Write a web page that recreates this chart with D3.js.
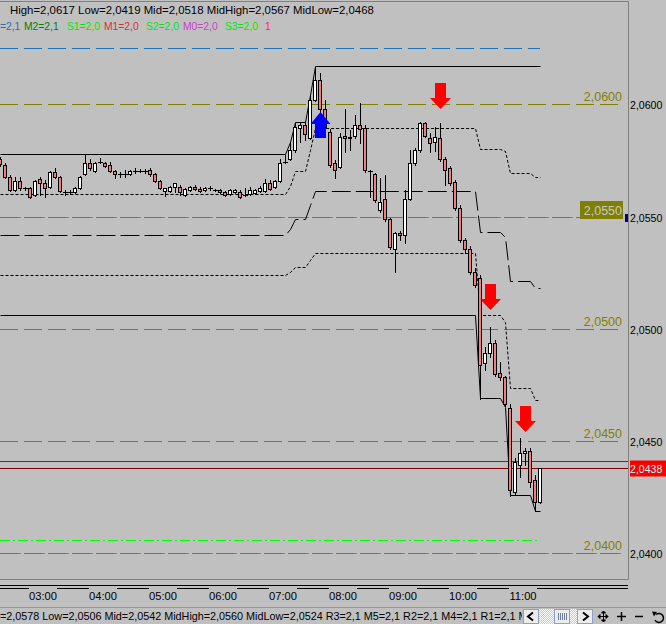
<!DOCTYPE html>
<html>
<head>
<meta charset="utf-8">
<script src="https://cdnjs.cloudflare.com/ajax/libs/d3/7.8.5/d3.min.js"></script>
<style>
  body { margin: 0; background: #c0c0c0; }
  svg { display: block; }
  text { font-family: "Liberation Sans", Arial, sans-serif; }
</style>
</head>
<body>
<div id="chart"></div>
<script>
const width = 666;
const height = 624;
const plotRight = 628;
const plotBottom = 579;

// 5 minute bars, first visible bar at 02:20
const firstBar = new Date(2010, 0, 4, 2, 20);

const opens = [
  2.05756, 2.0573, 2.05676, 2.05618, 2.05658, 2.05627, 2.05627, 2.05596, 2.05667, 2.05649,
  2.05632, 2.05698, 2.05676, 2.05609, 2.05609, 2.05609, 2.05627, 2.0569, 2.05739, 2.05703,
  2.05743, 2.05739, 2.0573, 2.05703, 2.0569, 2.0569, 2.0569, 2.05703, 2.05703, 2.05703,
  2.05707, 2.0569, 2.05658, 2.05614, 2.05614, 2.05632, 2.05632, 2.05596, 2.05618, 2.05632,
  2.05623, 2.05618, 2.05627, 2.05618, 2.05618, 2.05609, 2.056, 2.05609, 2.05609, 2.05596,
  2.056, 2.05605, 2.05614, 2.05614, 2.05649, 2.05632, 2.05658, 2.05743, 2.05756, 2.05796,
  2.05894, 2.05908, 2.0585, 2.06019, 2.06108, 2.05979, 2.05877, 2.05739, 2.05721, 2.05859,
  2.05854, 2.05859, 2.05908, 2.05894, 2.05703, 2.0569, 2.05529, 2.05578, 2.05489, 2.05355,
  2.05427, 2.05418, 2.05578, 2.05739, 2.05796, 2.05917, 2.0585, 2.05832, 2.0585, 2.05756,
  2.05716, 2.05654, 2.05538, 2.05396, 2.05355, 2.05253, 2.05226, 2.04848, 2.04892, 2.04937,
  2.04803, 2.04785, 2.04647, 2.04273, 2.04393, 2.04447, 2.04456, 2.04327, 2.04229
];
const highs = [
  2.05765, 2.05739, 2.05685, 2.05676, 2.05676, 2.05632, 2.05632, 2.05663, 2.05676, 2.05663,
  2.05703, 2.05716, 2.05681, 2.05618, 2.05618, 2.05632, 2.05681, 2.05779, 2.05756, 2.05743,
  2.05761, 2.05743, 2.05743, 2.05707, 2.05698, 2.05707, 2.05707, 2.05716, 2.05712, 2.05712,
  2.05716, 2.05694, 2.05663, 2.05627, 2.05636, 2.05649, 2.05641, 2.05627, 2.05636, 2.05641,
  2.05632, 2.05632, 2.05636, 2.05623, 2.05623, 2.05614, 2.05623, 2.05623, 2.05618, 2.05627,
  2.05632, 2.05623, 2.05636, 2.05667, 2.05663, 2.05663, 2.05756, 2.05774, 2.05832, 2.05917,
  2.05921, 2.05921, 2.06041, 2.06166, 2.06139, 2.06019, 2.0589, 2.05752, 2.05872, 2.05979,
  2.05886, 2.05952, 2.06006, 2.05908, 2.05707, 2.05694, 2.05672, 2.05685, 2.05494, 2.05431,
  2.05436, 2.05618, 2.05796, 2.05805, 2.05921, 2.05921, 2.05872, 2.05899, 2.05917, 2.05765,
  2.05725, 2.05663, 2.05551, 2.05404, 2.05369, 2.05271, 2.0524, 2.04919, 2.05008, 2.0495,
  2.04852, 2.0479, 2.04665, 2.04425, 2.04514, 2.04469, 2.04469, 2.04349, 2.0438
];
const lows = [
  2.05725, 2.05672, 2.05614, 2.05614, 2.05618, 2.05618, 2.05583, 2.05592, 2.05596, 2.05587,
  2.05627, 2.05672, 2.05609, 2.05596, 2.056, 2.05605, 2.05623, 2.05685, 2.05707, 2.05698,
  2.05739, 2.05721, 2.05698, 2.05672, 2.05676, 2.05676, 2.05685, 2.05694, 2.05698, 2.05694,
  2.05681, 2.05654, 2.05623, 2.05592, 2.05609, 2.05609, 2.05596, 2.05592, 2.05614, 2.05618,
  2.05609, 2.05614, 2.05618, 2.05614, 2.05605, 2.05592, 2.05596, 2.05605, 2.05583, 2.05592,
  2.05596, 2.056, 2.05609, 2.05609, 2.05618, 2.05627, 2.05654, 2.05739, 2.05752, 2.05788,
  2.05832, 2.05841, 2.05845, 2.06015, 2.05966, 2.05886, 2.05721, 2.05672, 2.05716, 2.05788,
  2.05796, 2.0585, 2.05828, 2.05698, 2.05587, 2.05565, 2.0552, 2.0548, 2.05355, 2.05253,
  2.05396, 2.05382, 2.05574, 2.0573, 2.05788, 2.05854, 2.05788, 2.05792, 2.05747, 2.05641,
  2.05641, 2.05529, 2.05387, 2.05337, 2.05244, 2.05186, 2.04687, 2.04817, 2.04874, 2.0479,
  2.04772, 2.04656, 2.04255, 2.04264, 2.0434, 2.04393, 2.04295, 2.04189, 2.04224
];
const closes = [
  2.05734, 2.05676, 2.05618, 2.05658, 2.05627, 2.05627, 2.05587, 2.05658, 2.05649, 2.05627,
  2.05698, 2.05676, 2.05614, 2.05609, 2.05609, 2.05627, 2.05676, 2.05739, 2.05716, 2.05739,
  2.05743, 2.05725, 2.05703, 2.0569, 2.0569, 2.0569, 2.05703, 2.05703, 2.05703, 2.05703,
  2.0569, 2.05658, 2.05627, 2.05627, 2.05632, 2.05649, 2.05609, 2.05623, 2.05632, 2.05623,
  2.05614, 2.05627, 2.05627, 2.05618, 2.05609, 2.05596, 2.05618, 2.05618, 2.05587, 2.05596,
  2.05618, 2.05618, 2.05627, 2.05649, 2.05623, 2.05658, 2.05739, 2.05743, 2.05796, 2.05899,
  2.05908, 2.05868, 2.06019, 2.06108, 2.05979, 2.05894, 2.0573, 2.05707, 2.05854, 2.0585,
  2.0585, 2.05908, 2.0589, 2.05707, 2.05703, 2.05574, 2.05565, 2.05489, 2.05364, 2.05427,
  2.05418, 2.05578, 2.05739, 2.05796, 2.05917, 2.05859, 2.05828, 2.05854, 2.05756, 2.05707,
  2.05649, 2.05538, 2.05396, 2.05355, 2.05253, 2.05196, 2.04839, 2.04892, 2.04937, 2.04799,
  2.04785, 2.04665, 2.04282, 2.04407, 2.04447, 2.04456, 2.04318, 2.04229, 2.0438
];

// session range indicator, [bar, price] breakpoints
const rangeHigh = [[0, 2.0578], [57, 2.0578], [58, 2.0583], [59, 2.0592], [61, 2.0592], [62, 2.0604], [63, 2.0617], [108, 2.0617]];
const rangeLow = [[0, 2.0506], [95, 2.0506], [96, 2.0469], [100, 2.0469], [101, 2.0465], [102, 2.0426], [106, 2.0426], [107, 2.0419], [108, 2.0419]];
const rangeMid = [[0, 2.0542], [57, 2.0542], [58, 2.05445], [59, 2.0549], [61, 2.0549], [62, 2.0555], [63, 2.05615], [95, 2.05615],
  [96, 2.0543], [100, 2.0543], [101, 2.0541], [102, 2.05215], [106, 2.05215], [107, 2.0518], [108, 2.0518]];
const rangeMidHigh = [[0, 2.056], [57, 2.056], [58, 2.05638], [59, 2.05705], [61, 2.05705], [62, 2.05795], [63, 2.05893], [95, 2.05893],
  [96, 2.058], [100, 2.058], [101, 2.0579], [102, 2.05693], [106, 2.05693], [107, 2.05675], [108, 2.05675]];
const rangeMidLow = [[0, 2.0524], [57, 2.0524], [58, 2.05253], [59, 2.05275], [61, 2.05275], [62, 2.05305], [63, 2.05338], [95, 2.05338],
  [96, 2.0506], [100, 2.0506], [101, 2.0503], [102, 2.04738], [106, 2.04738], [107, 2.04685], [108, 2.04685]];

const roundLevels = [2.06, 2.055, 2.05, 2.045, 2.04];
const dottedLevels = [2.055, 2.04];
const priceLabels = ["2,0600", "2,0550", "2,0500", "2,0450", "2,0400"];
const blueLevel = 2.0625;
const limeLevel = 2.0406;
const magentaLevel = 2.0441;
const bidPrice = 2.0438;

const signalBars = [64, 88, 98, 105];
const signalPrices = [2.05966, 2.05979, 2.05084, 2.0454];
const signalDirs = ["up", "down", "down", "down"];

const headerTop = "High=2,0617 Low=2,0419 Mid=2,0518 MidHigh=2,0567 MidLow=2,0468";
const headerParts = ["=2,1", "M2=2,1", "S1=2,0", "M1=2,0", "S2=2,0", "M0=2,0", "S3=2,0", "1"];
const headerColors = ["#1c74bc", "#008000", "#00e800", "#d83030", "#00e800", "#c840c8", "#00e800", "#ff1a6a"];
const headerX = [0, 24, 67, 104, 146, 183, 225, 265];
const statusText = "=2,0578 Low=2,0506 Mid=2,0542 MidHigh=2,0560 MidLow=2,0524 R3=2,1 M5=2,1 R2=2,1 M4=2,1 R1=2,1 M3=2,1";

const n = opens.length;
const bars = opens.map((o, i) => ({ i: i, o: o, h: highs[i], l: lows[i], c: closes[i] }));
const barTimes = d3.range(n).map((i) => d3.timeMinute.offset(firstBar, 5 * i));

const x = d3.scaleLinear().domain([0, n - 1]).range([0, 540]);
const t = d3.scaleTime().domain([barTimes[0], barTimes[n - 1]]).range([x(0), x(n - 1)]);
const y = d3.scaleLinear().domain([2.04, 2.06]).range([553.3, 104.3]);
const py = (p) => Math.round(y(p)) + 0.5;

const svg = d3.select("#chart").append("svg").attr("width", width).attr("height", height);
svg.append("rect").attr("width", width).attr("height", height).attr("fill", "#c0c0c0");

const plot = svg.append("g");

function hline(p, x0, x1, color, dash) {
  plot.append("line")
    .attr("x1", x0).attr("x2", x1)
    .attr("y1", py(p)).attr("y2", py(p))
    .attr("stroke", color)
    .attr("stroke-dasharray", dash || null);
}

// round levels with their labels
dottedLevels.forEach((p) => hline(p, 0, 623, "#808080", "3,3"));
roundLevels.forEach((p, i) => {
  hline(p, 0, 623, "#808000", "18,6");
  if (p === 2.055) {
    plot.append("rect").attr("x", 580).attr("y", py(p) - 16.5).attr("width", 43).attr("height", 18).attr("fill", "#808000");
    plot.append("text").attr("x", 622).attr("y", py(p) - 3).attr("text-anchor", "end")
      .attr("font-size", 12.5).attr("fill", "#c8c8c8").text(priceLabels[i]);
  } else {
    plot.append("text").attr("x", 622).attr("y", py(p) - 4).attr("text-anchor", "end")
      .attr("font-size", 12.5).attr("fill", "#808000").text(priceLabels[i]);
  }
});

hline(blueLevel, 0, x(n - 1), "#1c74bc", "18,6");
hline(limeLevel, 0, x(n - 1), "#00ff00", "10,3,2,3");
hline(magentaLevel, 0, plotRight, "#990099");
hline(bidPrice, 0, plotRight, "#800000");

// range indicator lines
const stepLine = d3.line().x((d) => x(d[0]) + 0.5).y((d) => py(d[1]));
[
  [rangeHigh, null],
  [rangeLow, null],
  [rangeMid, "19,5"],
  [rangeMidHigh, "3,2"],
  [rangeMidLow, "3,2"],
].forEach(([pts, dash]) => {
  plot.append("path").attr("d", stepLine(pts)).attr("fill", "none")
    .attr("stroke", "#000").attr("stroke-dasharray", dash);
});

// candles
const candles = plot.append("g");
candles.selectAll("line.wick").data(bars).join("line")
  .attr("class", "wick")
  .attr("x1", (d) => Math.round(x(d.i)) + 0.5)
  .attr("x2", (d) => Math.round(x(d.i)) + 0.5)
  .attr("y1", (d) => Math.round(y(d.h)))
  .attr("y2", (d) => Math.round(y(d.l)) + 1)
  .attr("stroke", "#000");

const bodies = bars.map((d) => {
  const top = Math.round(y(Math.max(d.o, d.c)));
  const bot = Math.round(y(Math.min(d.o, d.c)));
  return { i: d.i, top: top, bot: bot, bull: d.c >= d.o };
});
candles.selectAll("rect.body").data(bodies.filter((b) => b.bot > b.top)).join("rect")
  .attr("class", "body")
  .attr("x", (d) => Math.round(x(d.i)) - 1.5)
  .attr("y", (d) => d.top + 0.5)
  .attr("width", 3)
  .attr("height", (d) => d.bot - d.top)
  .attr("fill", (d) => (d.bull ? "#ffffff" : "#f08080"))
  .attr("stroke", "#000");
candles.selectAll("line.doji").data(bodies.filter((b) => b.bot <= b.top)).join("line")
  .attr("class", "doji")
  .attr("x1", (d) => Math.round(x(d.i)) - 2)
  .attr("x2", (d) => Math.round(x(d.i)) + 3)
  .attr("y1", (d) => d.top + 0.5)
  .attr("y2", (d) => d.top + 0.5)
  .attr("stroke", "#000");

// signal arrows (anchored at the tip)
signalBars.forEach((k, i) => {
  const cx = x(k) + 0.5;
  const ty = y(signalPrices[i]);
  let pts;
  if (signalDirs[i] === "up") {
    pts = [[cx, ty], [cx + 10, ty + 12], [cx + 5.5, ty + 12], [cx + 5.5, ty + 26],
      [cx - 5.5, ty + 26], [cx - 5.5, ty + 12], [cx - 10, ty + 12]];
  } else {
    pts = [[cx - 5.5, ty - 26], [cx + 5.5, ty - 26], [cx + 5.5, ty - 11], [cx + 10.5, ty - 11],
      [cx, ty], [cx - 10.5, ty - 11], [cx - 5.5, ty - 11]];
  }
  plot.append("polygon").attr("points", pts.map((p) => p.join(",")).join(" "))
    .attr("fill", signalDirs[i] === "up" ? "#0000ff" : "#ff0000");
});

// frame
svg.append("path")
  .attr("d", `M0,1.5H${plotRight + 0.5}V${plotBottom + 0.5}H0`)
  .attr("fill", "none").attr("stroke", "#808080");

// price axis
roundLevels.forEach((p, i) => {
  svg.append("text").attr("x", 630).attr("y", py(p) + 4)
    .attr("font-size", 10.6).attr("fill", "#000").text(priceLabels[i]);
});
svg.append("rect").attr("x", 625).attr("y", py(2.055) - 3.5).attr("width", 3).attr("height", 8).attr("fill", "#000080");
svg.append("rect").attr("x", 630).attr("y", py(bidPrice) - 8).attr("width", 36).attr("height", 16).attr("fill", "#ff0000");
svg.append("text").attr("x", 630).attr("y", py(bidPrice) + 4)
  .attr("font-size", 10.6).attr("fill", "#a8ffff").text(d3.format(".4f")(bidPrice).replace(".", ","));

// time axis
svg.append("line").attr("x1", 0).attr("x2", plotRight).attr("y1", 585.5).attr("y2", 585.5).attr("stroke", "#000");
svg.append("line").attr("x1", 0).attr("x2", plotRight).attr("y1", 588.5).attr("y2", 588.5).attr("stroke", "#000");
const hourTicks = t.ticks(d3.timeHour.every(1));
const timeFmt = d3.timeFormat("%H:%M");
const ticksG = svg.append("g");
hourTicks.forEach((d) => {
  const cx = t(d) + 3;
  ticksG.append("rect").attr("x", cx - 14).attr("y", 587).attr("width", 28).attr("height", 16).attr("fill", "#c0c0c0");
  ticksG.append("text").attr("x", cx).attr("y", 600).attr("text-anchor", "middle")
    .attr("font-size", 11.2).attr("fill", "#000").text(timeFmt(d));
});

// header texts
svg.append("text").attr("x", 10).attr("y", 14).attr("font-size", 11.4).attr("fill", "#000").text(headerTop);
headerParts.forEach((s, i) => {
  svg.append("text").attr("x", headerX[i]).attr("y", 30)
    .attr("font-size", 10.3).attr("fill", headerColors[i]).text(s);
});

// status bar
svg.append("line").attr("x1", 0).attr("x2", width).attr("y1", 607.5).attr("y2", 607.5).attr("stroke", "#7f9db9");
svg.append("text").attr("x", 0).attr("y", 619.5).attr("font-size", 10.8).attr("fill", "#000").text(statusText);
svg.append("rect").attr("x", 522).attr("y", 608).attr("width", 144).attr("height", 16).attr("fill", "#c0c0c0");

const defs = svg.append("defs");
const pat = defs.append("pattern").attr("id", "dither").attr("width", 2).attr("height", 2).attr("patternUnits", "userSpaceOnUse");
pat.append("rect").attr("width", 2).attr("height", 2).attr("fill", "#c8c8c8");
pat.append("rect").attr("width", 1).attr("height", 1).attr("fill", "#ffffff");
pat.append("rect").attr("x", 1).attr("y", 1).attr("width", 1).attr("height", 1).attr("fill", "#ffffff");

svg.append("rect").attr("x", 539).attr("y", 609).attr("width", 38).attr("height", 15).attr("fill", "url(#dither)");
[523.5, 577.5].forEach((bx) => {
  svg.append("rect").attr("x", bx).attr("y", 609.5).attr("width", 15).attr("height", 14)
    .attr("fill", "#ececec").attr("stroke", "#8ca0c8");
});
svg.append("path").attr("d", "M533,612.5L528,616.5L533,620.5").attr("fill", "none").attr("stroke", "#000").attr("stroke-width", 2);
svg.append("path").attr("d", "M583,612.5L588,616.5L583,620.5").attr("fill", "none").attr("stroke", "#000").attr("stroke-width", 2);
svg.append("rect").attr("x", 554.5).attr("y", 609.5).attr("width", 15).attr("height", 14)
  .attr("fill", "#ececec").attr("stroke", "#8ca0c8");
d3.range(5).forEach((j) => {
  svg.append("line").attr("x1", 558.5 + j * 2).attr("x2", 558.5 + j * 2).attr("y1", 613).attr("y2", 620).attr("stroke", "#7080a0");
});

// toolbar icons: move, zoom in, zoom out, reset
svg.append("path")
  .attr("d", "M598,616.5H608M603.5,611V622M598,616.5l2,-2v4zM608,616.5l-2,-2v4zM603.5,611l-2,2h4zM603.5,622l-2,-2h4z")
  .attr("fill", "#000").attr("stroke", "#000");
svg.append("path").attr("d", "M617,616.5H626M621.5,612V621").attr("stroke", "#000").attr("stroke-width", 1.5);
svg.append("path").attr("d", "M635,616.5H643").attr("stroke", "#000").attr("stroke-width", 1.5);
svg.append("path").attr("d", "M656,614.5A4.5,4.5 0 1 1 655,620").attr("fill", "none").attr("stroke", "#000").attr("stroke-width", 1.5);
svg.append("path").attr("d", "M652,611.5L657,612L654,616.5Z").attr("fill", "#000");
</script>
</body>
</html>
